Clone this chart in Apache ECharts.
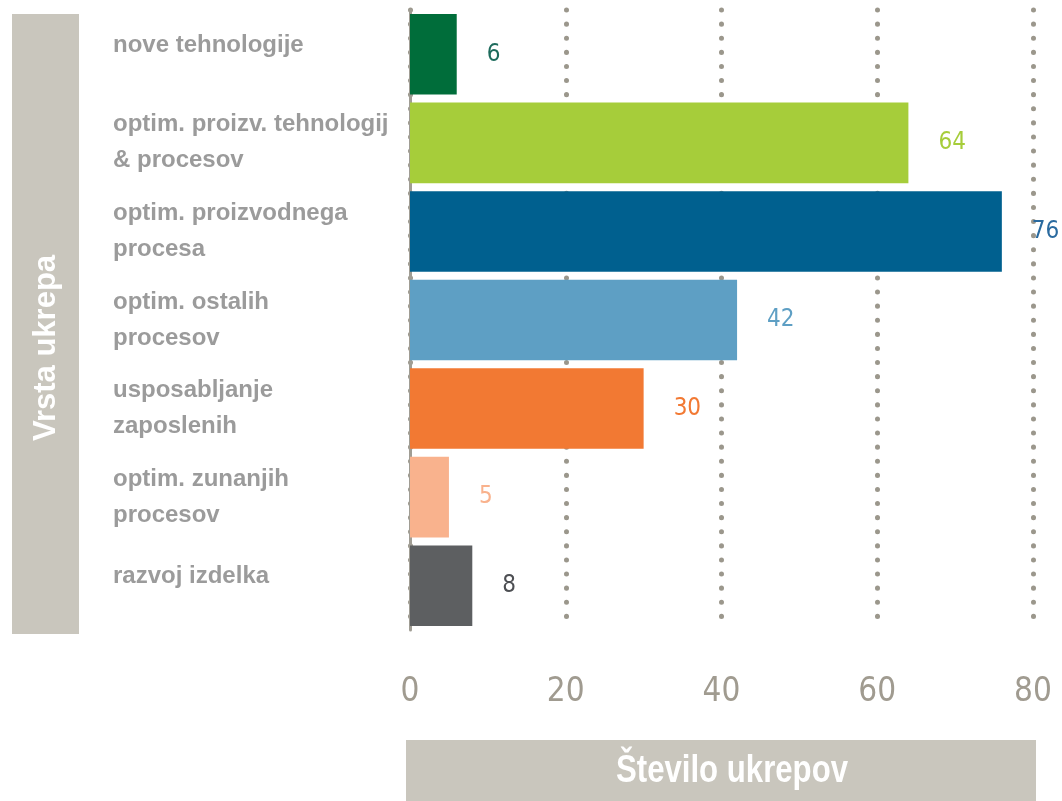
<!DOCTYPE html>
<html>
<head>
<meta charset="utf-8">
<script src="https://cdn.jsdelivr.net/npm/echarts@6/dist/echarts.min.js"></script>
<style>
    html, body { margin: 0; padding: 0; background: #ffffff; }
    #chart { width: 1062px; height: 801px; }
</style>
</head>
<body>
<div id="chart"></div>
<script>
// data
const categories = [
    "nove tehnologije",
    "optim. proizv. tehnologij\n& procesov",
    "optim. proizvodnega\nprocesa",
    "optim. ostalih\nprocesov",
    "usposabljanje\nzaposlenih",
    "optim. zunanjih\nprocesov",
    "razvoj izdelka",
];
const values = [6, 64, 76, 42, 30, 5, 8];
const barColors = ["#006d3a", "#a6cd3a", "#00608f", "#5e9fc4", "#f27933", "#f9b28d", "#5d5f61"];
const labelColors = ["#1d6b5c", "#a6cd3a", "#2a6a9f", "#5e9fc4", "#f27933", "#f9b28d", "#4d4f53"];
const xTicks = [0, 20, 40, 60, 80];

const narrow = '"DejaVu Sans Condensed", "Liberation Sans", sans-serif';
const arial = '"Liberation Sans", Arial, sans-serif';
const boxColor = "#c9c6bd";

const chart = echarts.init(document.getElementById("chart"));

const option = {
    backgroundColor: "#ffffff",
    animation: false,
    grid: {
        left: 410,
        right: 29,
        top: 10,
        bottom: 171,
    },
    xAxis: {
        type: "value",
        min: xTicks[0],
        max: xTicks[xTicks.length - 1],
        interval: 20,
        axisLine: { show: false },
        axisTick: { show: false },
        axisLabel: {
            margin: 46,
            color: "#a09b90",
            fontFamily: narrow,
            fontSize: 33,
        },
        splitLine: {
            show: true,
            lineStyle: {
                color: "#9b978c",
                width: 5,
                type: [0.1, 14],
                cap: "round",
            },
        },
    },
    yAxis: {
        type: "category",
        inverse: true,
        data: categories,
        axisLine: {
            show: true,
            lineStyle: { color: "#a09d94", width: 3 },
        },
        axisTick: { show: false },
        axisLabel: {
            margin: 297,
            align: "left",
            formatter: (v) => (v.includes("\n") ? "{a|" + v.replace("\n", "}\n{a|") + "}" : "{a|" + v + "}\n{s|}"),
            rich: {
                a: {
                    color: "#9b9b9b",
                    fontFamily: arial,
                    fontWeight: "bold",
                    fontSize: 24,
                    lineHeight: 36,
                },
                s: { lineHeight: 18 },
            },
        },
    },
    series: [
        {
            type: "bar",
            barCategoryGap: "9%",
            data: values.map((v, i) => ({
                value: v,
                itemStyle: { color: barColors[i] },
                label: { color: labelColors[i] },
            })),
            label: {
                show: true,
                position: "right",
                distance: 30,
                fontFamily: narrow,
                fontSize: 24,
            },
        },
    ],
    graphic: [
        {
            type: "rect",
            shape: { x: 12, y: 14, width: 67, height: 620 },
            style: { fill: boxColor },
            silent: true,
        },
        {
            type: "text",
            x: 46,
            y: 348,
            rotation: Math.PI / 2,
            style: {
                text: "Vrsta ukrepa",
                fill: "#ffffff",
                font: "bold 31px " + arial,
                align: "center",
                verticalAlign: "middle",
            },
            silent: true,
        },
        {
            type: "rect",
            shape: { x: 406, y: 740, width: 630, height: 61 },
            style: { fill: boxColor },
            silent: true,
        },
        {
            type: "text",
            x: 732,
            y: 772,
            scaleX: 0.82,
            style: {
                text: "Število ukrepov",
                fill: "#ffffff",
                font: "bold 38px " + arial,
                align: "center",
                verticalAlign: "middle",
            },
            silent: true,
        },
    ],
};

chart.setOption(option);
</script>
</body>
</html>
